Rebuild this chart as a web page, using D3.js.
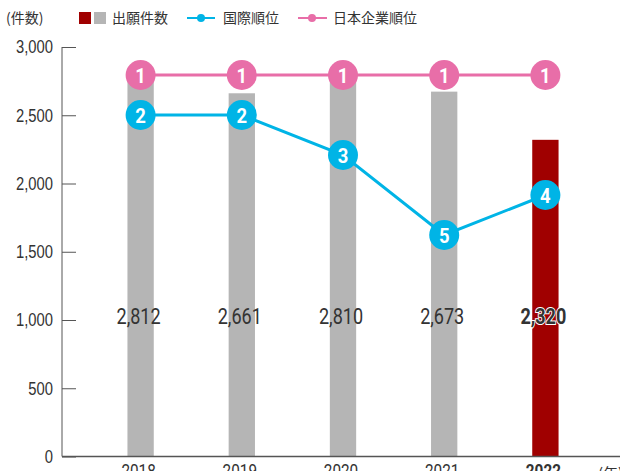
<!DOCTYPE html>
<html>
<head>
<meta charset="utf-8">
<script src="https://cdn.jsdelivr.net/npm/d3@7"></script>
<style>
  body { margin: 0; background: #fff; }
  svg { display: block; font-family: "Roboto", sans-serif; }
  .jp { font-family: "Noto Sans CJK JP", sans-serif; }
</style>
</head>
<body>
<div id="chart"></div>
<script>
/* Filings per year, with international and Japanese-company rank */

const years = ["2018", "2019", "2020", "2021", "2022"];
const filings = [2812, 2661, 2810, 2673, 2320];
const worldRank = [2, 2, 3, 5, 4];
const japanRank = [1, 1, 1, 1, 1];
const yTicks = [0, 500, 1000, 1500, 2000, 2500, 3000];

const data = years.map((y, i) => ({year: y, num: filings[i], world: worldRank[i], japan: japanRank[i]}));

const width = 620,
      height = 471,
      margin = ({top: 47, right: 0, bottom: 14, left: 62});

const grey = "#b5b5b5", red = "#a00000", blue = "#00b4e6", pink = "#e86ea8", ink = "#333";

let svg = d3.select("#chart")
            .append("svg")
            .attr("width", width)
            .attr("height", height);

// the original uses a narrow face, so squeeze the digits a bit
function squeeze(sel, k) {
    sel.each(function() {
        let w = this.getComputedTextLength();
        d3.select(this).attr("textLength", w * k).attr("lengthAdjust", "spacingAndGlyphs");
    });
}

/* Scales */
let x = d3.scaleBand()
          .domain(years)
          .range([90, 596])
          .paddingInner(0.74)
          .paddingOuter(0.37);

let y = d3.scaleLinear()
          .domain([0, 3000])
          .range([456.5, margin.top]);

// rank lines sit on their own scale
let r = d3.scaleLinear()
          .domain([1, 5])
          .range([75, 235]);

/* Bars */
svg.selectAll(".bar")
   .data(data)
   .join("rect")
   .attr("class", "bar")
   .attr("fill", (d, i) => i == data.length - 1 ? red : grey)
   .attr("x", d => x(d.year))
   .attr("width", x.bandwidth())
   .attr("y", d => y(d.num))
   .attr("height", d => y(0) - y(d.num));

/* Axes */
const yAxis = g => g
      .attr("transform", `translate(${margin.left}, 0)`)
      .call(d3.axisRight(y).tickValues(yTicks).tickSize(14).tickFormat(d3.format(",")))
      .call(g => g.select(".domain").attr("stroke", "#555").attr("d", `M0,${y(3000)}V${y(0)}`))
      .call(g => g.selectAll(".tick line").attr("stroke", "#555"))
      .call(g => g.selectAll(".tick text")
                  .attr("x", -9)
                  .attr("text-anchor", "end")
                  .attr("fill", ink)
                  .style("font-size", "18px")
                  .call(squeeze, 0.82));

svg.append("g").call(yAxis);

svg.append("line")
   .attr("x1", margin.left).attr("x2", width)
   .attr("y1", y(0)).attr("y2", y(0))
   .attr("stroke", "#555").attr("stroke-width", 1.5);

svg.selectAll(".xlab")
   .data(data)
   .join("text")
   .attr("class", "xlab")
   .attr("x", d => x(d.year) + x.bandwidth() / 2 - 2)
   .attr("y", 477)
   .attr("text-anchor", "middle")
   .attr("fill", ink)
   .style("font-size", "18px")
   .style("font-weight", (d, i) => i == data.length - 1 ? "bold" : "normal")
   .text(d => d.year)
   .call(squeeze, 0.85);

svg.append("text")
   .attr("class", "jp")
   .attr("x", 598).attr("y", 479)
   .attr("fill", ink)
   .style("font-size", "15px")
   .text("(年)");

/* Value labels */
svg.selectAll(".val")
   .data(data)
   .join("text")
   .attr("class", "val")
   .attr("x", d => x(d.year) + x.bandwidth() / 2 - 2)
   .attr("y", 324)
   .attr("text-anchor", "middle")
   .attr("fill", ink)
   .attr("stroke", (d, i) => i == data.length - 1 ? "#fff" : "none")
   .attr("stroke-width", 2)
   .attr("paint-order", "stroke")
   .style("font-size", "22px")
   .style("font-weight", (d, i) => i == data.length - 1 ? "bold" : "normal")
   .text(d => d3.format(",")(d.num))
   .call(squeeze, 0.82);

/* Rank lines */
function rankLine(key, color) {
    let line = d3.line()
                 .x(d => x(d.year) + x.bandwidth() / 2)
                 .y(d => r(d[key]));

    svg.append("path")
       .datum(data)
       .attr("fill", "none")
       .attr("stroke", color)
       .attr("stroke-width", 3)
       .attr("d", line);

    let dot = svg.selectAll(".dot-" + key)
                 .data(data)
                 .join("g")
                 .attr("class", "dot-" + key)
                 .attr("transform", d => `translate(${x(d.year) + x.bandwidth() / 2}, ${r(d[key])})`);

    dot.append("circle")
       .attr("r", 15)
       .attr("fill", color);

    dot.append("text")
       .attr("text-anchor", "middle")
       .attr("dy", "0.36em")
       .attr("fill", "#fff")
       .style("font-size", "21px")
       .style("font-weight", "bold")
       .text(d => d[key])
       .call(squeeze, 0.88);
}

rankLine("world", blue);
rankLine("japan", pink);

/* Legend */
let legend = svg.append("g").attr("class", "jp").style("font-size", "14px").attr("fill", ink);

legend.append("text").attr("x", 6).attr("y", 23).text("(件数)");

legend.append("rect").attr("x", 79).attr("y", 12).attr("width", 12).attr("height", 12).attr("fill", red);
legend.append("rect").attr("x", 94).attr("y", 12).attr("width", 12).attr("height", 12).attr("fill", grey);
legend.append("text").attr("x", 112).attr("y", 23).text("出願件数");

legend.append("line").attr("x1", 187).attr("x2", 215).attr("y1", 18).attr("y2", 18)
      .attr("stroke", blue).attr("stroke-width", 2);
legend.append("circle").attr("cx", 201).attr("cy", 18).attr("r", 4).attr("fill", blue);
legend.append("text").attr("x", 223).attr("y", 23).text("国際順位");

legend.append("line").attr("x1", 298).attr("x2", 327).attr("y1", 18).attr("y2", 18)
      .attr("stroke", pink).attr("stroke-width", 2);
legend.append("circle").attr("cx", 312).attr("cy", 18).attr("r", 4).attr("fill", pink);
legend.append("text").attr("x", 333).attr("y", 23).text("日本企業順位");
</script>
</body>
</html>
